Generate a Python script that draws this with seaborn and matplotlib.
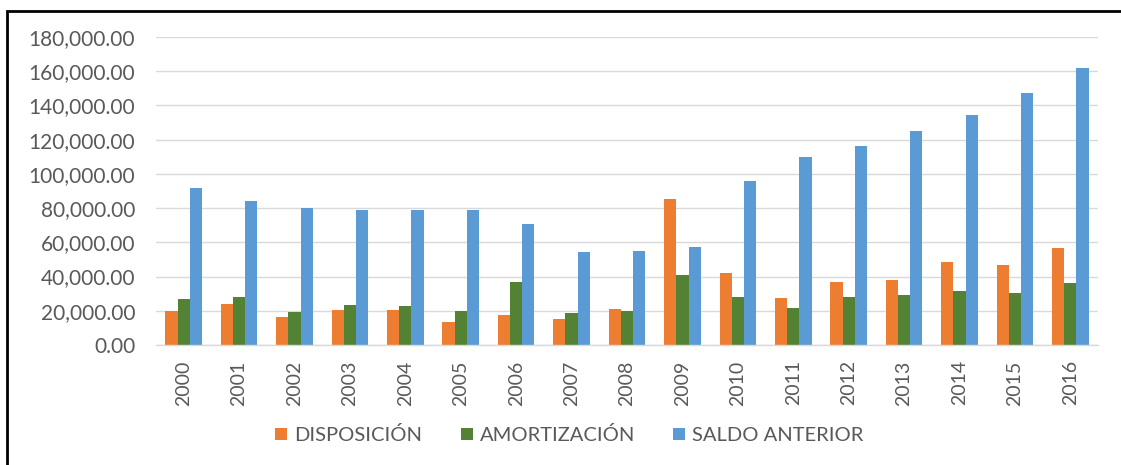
import numpy as np
import pandas as pd
import matplotlib.pyplot as plt
from matplotlib.patches import Rectangle
from matplotlib.ticker import FuncFormatter, FixedLocator
import seaborn as sns

years = [str(y) for y in range(2000, 2017)]
disposicion = [20000, 24000, 16300, 20600, 20600, 13600, 17500, 15000, 20800, 85200,
               41800, 27200, 36800, 38100, 48400, 46500, 56800]
amortizacion = [26700, 27800, 19500, 23200, 22600, 20000, 36800, 18700, 19800, 41200,
                27800, 21400, 27800, 29000, 31700, 30400, 36200]
saldo_anterior = [91800, 83900, 80000, 78800, 78800, 78800, 71000, 54300, 54900, 57000,
                  96100, 109700, 116100, 125300, 134200, 147300, 162100]
series_names = ['DISPOSICIÓN', 'AMORTIZACIÓN', 'SALDO ANTERIOR']
colors = ['#ED7D31', '#548235', '#5B9BD5']

# long format for seaborn
df = pd.DataFrame({
    'year': years * 3,
    'value': disposicion + amortizacion + saldo_anterior,
    'serie': [series_names[0]] * 17 + [series_names[1]] * 17 + [series_names[2]] * 17,
})

sns.set_style('white')
plt.rcParams['font.family'] = ['Lato', 'DejaVu Sans']

fig = plt.figure(figsize=(11.21, 4.65), dpi=100)
ax = fig.add_axes([156 / 1121, 120 / 465, 942 / 1121, 308 / 465])

sns.barplot(data=df, x='year', y='value', hue='serie', palette=colors,
            width=0.66, saturation=1, linewidth=0, ax=ax, legend=True)

ax.set_ylim(0, 180000)
ax.set_xlim(-0.5, 16.5)
ax.set_yticks(np.arange(0, 180001, 20000))
ax.yaxis.set_major_formatter(FuncFormatter(lambda v, p: f'{v:,.2f}'))
ax.grid(axis='y', color='#D9D9D9', linewidth=1)
ax.set_axisbelow(True)
ax.set_xlabel('')
ax.set_ylabel('')

for s in ['top', 'right', 'left']:
    ax.spines[s].set_visible(False)
ax.spines['bottom'].set_color('#D9D9D9')
ax.spines['bottom'].set_linewidth(1)

ax.tick_params(axis='y', length=0, labelsize=15, labelcolor='#595959', pad=15)
ax.tick_params(axis='x', which='major', length=0, labelsize=14,
               labelcolor='#595959', rotation=90, pad=11)
ax.xaxis.set_minor_locator(FixedLocator(np.arange(-0.5, 17, 1)))
ax.tick_params(axis='x', which='minor', length=6, color='#D9D9D9', width=1)

ax.legend(loc='center', bbox_to_anchor=(0.508, 30 / 465), bbox_transform=fig.transFigure,
          ncol=3, frameon=False, fontsize=14.5, handlelength=0.6, handleheight=0.6,
          handletextpad=0.35, columnspacing=1.9, labelcolor='#595959')

# black frame around chart
fig.patches.append(Rectangle((7 / 1121, -0.1), 1.2, (465 - 11) / 465 + 0.1,
                             transform=fig.transFigure, fill=False,
                             edgecolor='black', linewidth=2))

fig.savefig('out.png', dpi=100)
